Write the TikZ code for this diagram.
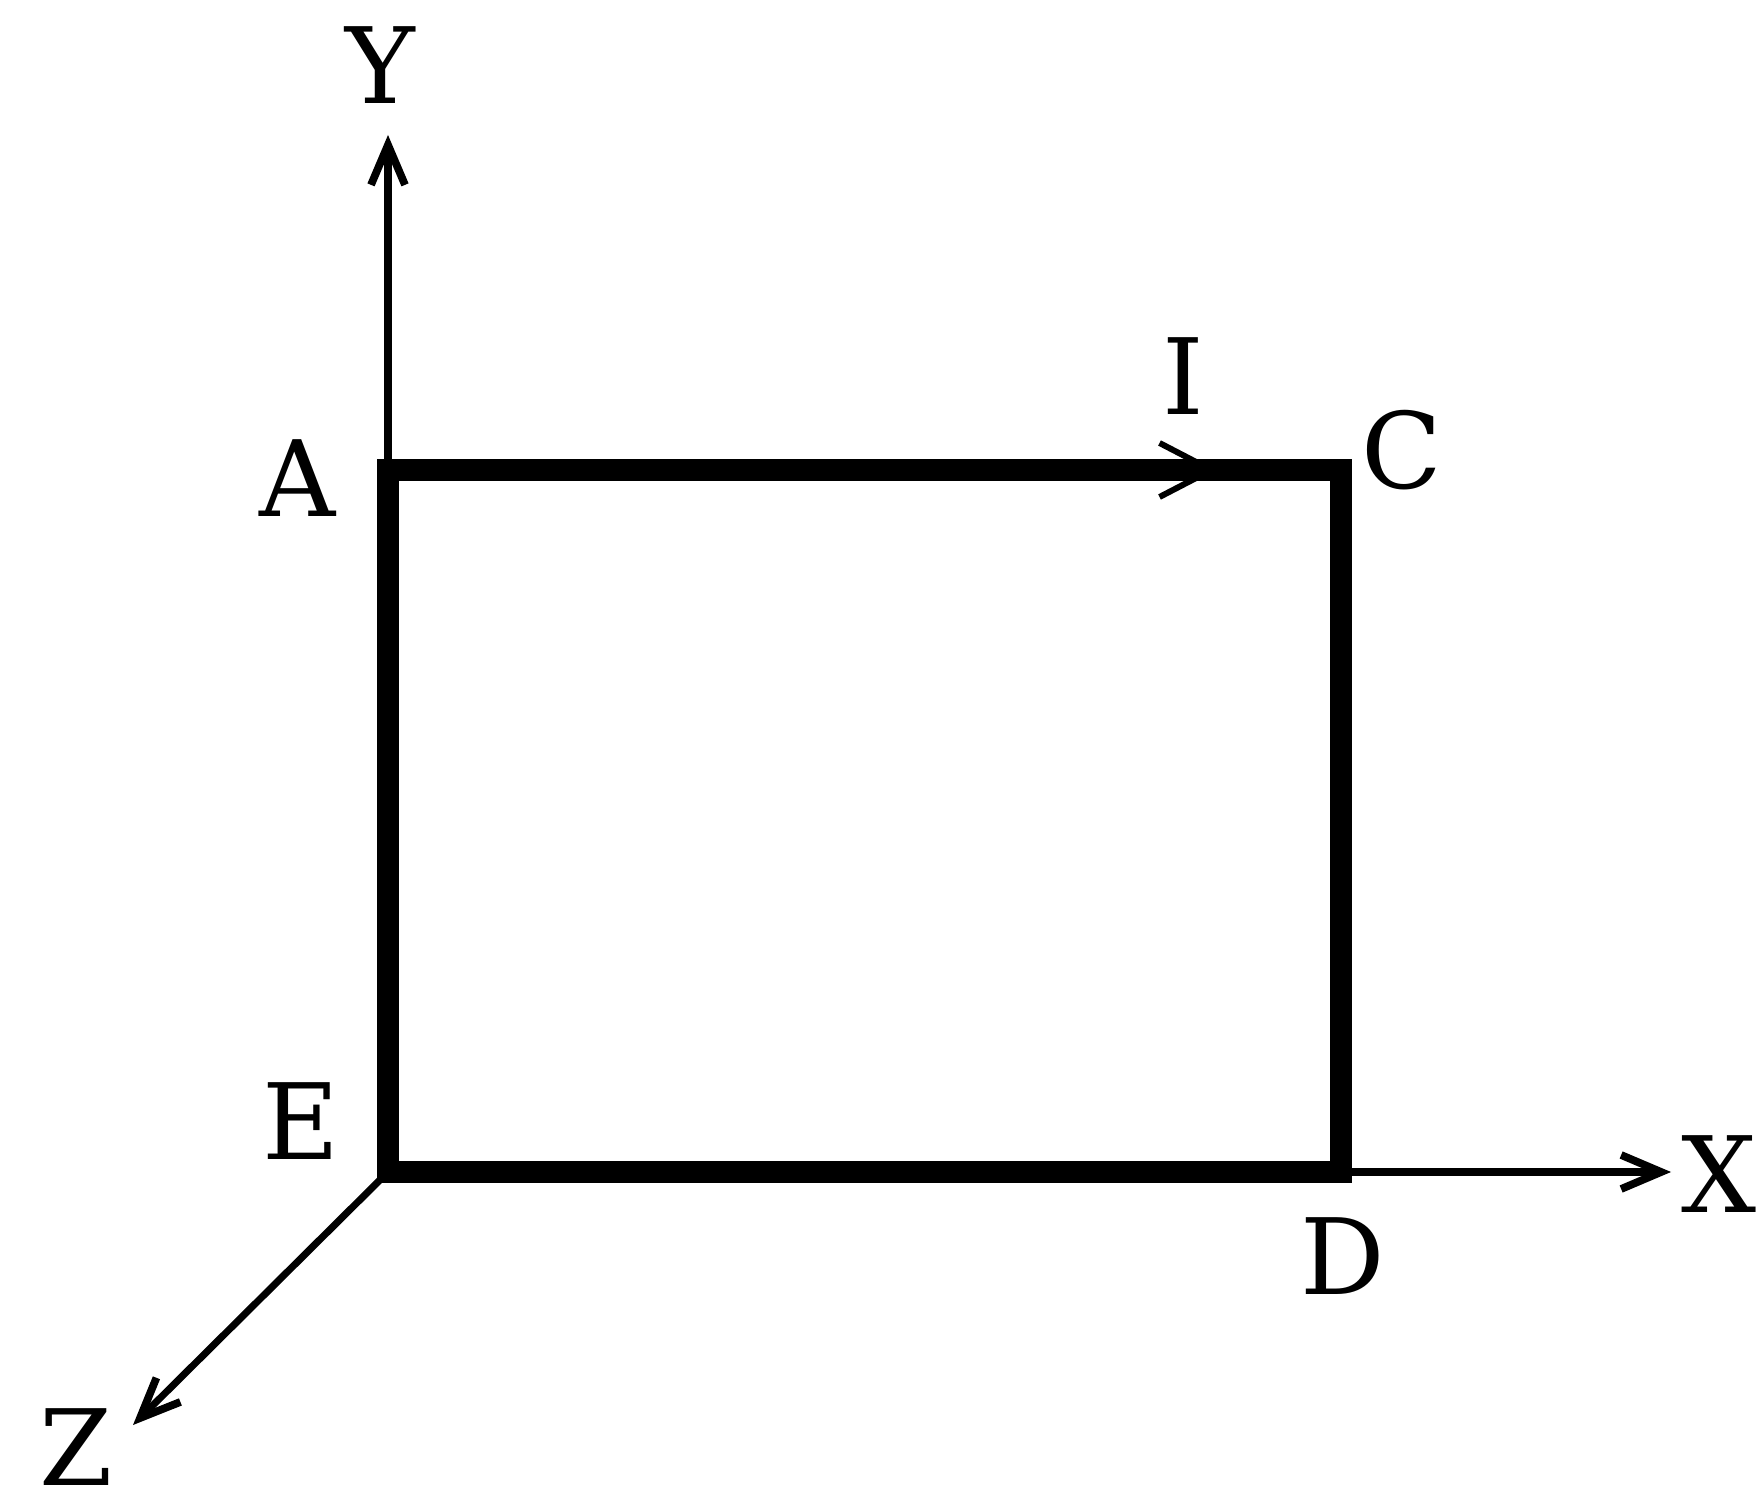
\documentclass[tikz,border=0pt]{standalone}
\usepackage{fontspec}
\setmainfont{DejaVu Serif}
\usetikzlibrary{arrows.meta,decorations.markings}

\begin{document}
\begin{tikzpicture}[
  every node/.style={font=\fontsize{30}{31}\selectfont, inner sep=0pt},
  loopwire/.style={line width=6pt, line join=miter},
  axis/.style={line width=2pt, -{Straight Barb[length=4mm,width=3.4mm,line width=2.2pt]}},
]
\useasboundingbox (0,0) rectangle (17.62,15.10);

% Corners of the loop
\coordinate (A) at (3.88,10.40);
\coordinate (C) at (13.41,10.40);
\coordinate (D) at (13.41,3.38);
\coordinate (E) at (3.88,3.38);

% Axis ends
\coordinate (Ytip) at (3.88,13.75);
\coordinate (Xtip) at (16.71,3.38);
\coordinate (Ztip) at (1.33,0.85);

% Axes
\draw[axis] (A) -- (Ytip);
\draw[axis] (D) -- (Xtip);
\draw[axis] (E) -- (Ztip);

% Loop with current direction
\draw[loopwire, postaction={decorate}, decoration={markings,
    mark=at position 8.3cm with {\arrow[line width=1.7pt]{Straight Barb[length=5.2mm,width=5.4mm]}}}]
  (A) -- (C) -- (D) -- (E) -- cycle;

% Labels
\node (labY) at (3.80,14.45) {Y};
\node (labA) at (2.98,10.32) {A};
\node (labI) at (11.83,11.34) {I};
\node (labC) at (14.02,10.60) {C};
\node (labE) at (3.01,3.89) {E};
\node (labX) at (17.19,3.36) {X};
\node (labD) at (13.43,2.54) {D};
\node (labZ) at (0.76,0.63) {Z};

\end{tikzpicture}
\end{document}
